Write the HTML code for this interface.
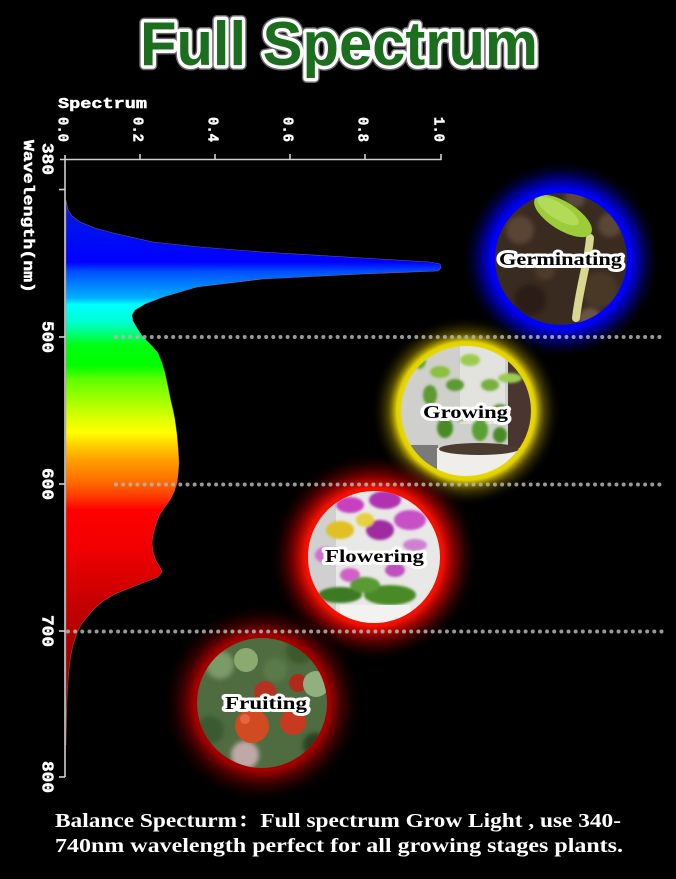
<!DOCTYPE html>
<html><head><meta charset="utf-8"><style>
html,body{margin:0;padding:0;background:#000;}
svg{display:block;}
</style></head><body>
<svg width="676" height="879" viewBox="0 0 676 879" xmlns="http://www.w3.org/2000/svg">
<defs>
<linearGradient id="spec" gradientUnits="userSpaceOnUse" x1="0" y1="200" x2="0" y2="740">
<stop offset="0" stop-color="#1020c0"/>
<stop offset="0.056" stop-color="#0010f0"/>
<stop offset="0.115" stop-color="#0000ff"/>
<stop offset="0.133" stop-color="#0050ff"/>
<stop offset="0.157" stop-color="#0080ff"/>
<stop offset="0.181" stop-color="#00b0ff"/>
<stop offset="0.194" stop-color="#00ffff"/>
<stop offset="0.226" stop-color="#00ffd0"/>
<stop offset="0.246" stop-color="#00ff80"/>
<stop offset="0.269" stop-color="#00ff10"/>
<stop offset="0.306" stop-color="#00ff00"/>
<stop offset="0.333" stop-color="#60ff00"/>
<stop offset="0.37" stop-color="#a0ff00"/>
<stop offset="0.407" stop-color="#e0ff00"/>
<stop offset="0.431" stop-color="#ffff00"/>
<stop offset="0.454" stop-color="#ffd000"/>
<stop offset="0.481" stop-color="#ffa000"/>
<stop offset="0.519" stop-color="#ff7000"/>
<stop offset="0.546" stop-color="#ff4000"/>
<stop offset="0.574" stop-color="#ff0000"/>
<stop offset="0.648" stop-color="#f00000"/>
<stop offset="0.741" stop-color="#c80000"/>
<stop offset="0.833" stop-color="#a80000"/>
<stop offset="1" stop-color="#800000"/>
</linearGradient>
<radialGradient id="gBlue" cx="561" cy="259" r="100" gradientUnits="userSpaceOnUse">
<stop offset="0.6" stop-color="#0000ff"/>
<stop offset="0.69" stop-color="#0000ff"/>
<stop offset="0.8" stop-color="#0000b0" stop-opacity="0.75"/>
<stop offset="0.9" stop-color="#000060" stop-opacity="0.35"/>
<stop offset="1" stop-color="#000000" stop-opacity="0"/>
</radialGradient>
<radialGradient id="gYel" cx="466" cy="411" r="95" gradientUnits="userSpaceOnUse">
<stop offset="0.65" stop-color="#f0e000"/>
<stop offset="0.73" stop-color="#e0d000"/>
<stop offset="0.82" stop-color="#807000" stop-opacity="0.6"/>
<stop offset="1" stop-color="#000000" stop-opacity="0"/>
</radialGradient>
<radialGradient id="gRed" cx="374" cy="557" r="105" gradientUnits="userSpaceOnUse">
<stop offset="0.6" stop-color="#ff1000"/>
<stop offset="0.66" stop-color="#f01000"/>
<stop offset="0.78" stop-color="#a00000" stop-opacity="0.7"/>
<stop offset="0.9" stop-color="#500000" stop-opacity="0.3"/>
<stop offset="1" stop-color="#000000" stop-opacity="0"/>
</radialGradient>
<radialGradient id="gDRed" cx="262" cy="703" r="100" gradientUnits="userSpaceOnUse">
<stop offset="0.6" stop-color="#b00000"/>
<stop offset="0.68" stop-color="#a00000"/>
<stop offset="0.8" stop-color="#600000" stop-opacity="0.65"/>
<stop offset="0.92" stop-color="#300000" stop-opacity="0.25"/>
<stop offset="1" stop-color="#000000" stop-opacity="0"/>
</radialGradient>
<clipPath id="c1"><circle cx="561" cy="259" r="66"/></clipPath>
<clipPath id="c2"><circle cx="466" cy="411" r="65"/></clipPath>
<clipPath id="c3"><circle cx="374" cy="557" r="66"/></clipPath>
<clipPath id="c4"><circle cx="262" cy="703" r="65"/></clipPath>
<filter id="bl" x="-20%" y="-20%" width="140%" height="140%"><feGaussianBlur stdDeviation="2.5"/></filter>
<filter id="bl2" x="-20%" y="-20%" width="140%" height="140%"><feGaussianBlur stdDeviation="1.2"/></filter>
</defs>

<rect width="676" height="879" fill="#000"/>

<!-- Title -->
<text x="140" y="65" font-family="Liberation Sans, sans-serif" font-weight="bold" font-size="62" textLength="398" lengthAdjust="spacingAndGlyphs" fill="#555" stroke="#666" stroke-width="10" stroke-linejoin="round">Full Spectrum</text>
<text x="140" y="65" font-family="Liberation Sans, sans-serif" font-weight="bold" font-size="62" textLength="398" lengthAdjust="spacingAndGlyphs" fill="#1b6e1d" stroke="#ffffff" stroke-width="7" stroke-linejoin="round" paint-order="stroke">Full Spectrum</text>

<!-- glows -->
<circle cx="561" cy="259" r="100" fill="url(#gBlue)"/>
<circle cx="466" cy="411" r="95" fill="url(#gYel)"/>
<circle cx="374" cy="557" r="105" fill="url(#gRed)"/>
<circle cx="262" cy="703" r="100" fill="url(#gDRed)"/>

<!-- Spectrum fill -->
<path fill="url(#spec)" stroke="#c08080" stroke-width="0.6" stroke-opacity="0.6" d="M66,200 L68,210 L72,216 L80,222 L95,228 L113,233 L153,242 L200,247 L263,252 L363,258 L430,262 L440,264 L441,268 L438,271 L363,274 L263,279 L197,287 L163,297 L145,304 L135,310 L132,315 L133,321 L137,328 L143,337 L152,346 L158,353 L162,363 L165,373 L168,387 L170,397 L173,410 L175,420 L177,435 L178,447 L179,463 L178,475 L177,483 L174,492 L170,500 L164,508 L159,516 L156,524 L153,535 L152,543 L153,552 L156,561 L160,567 L162,572 L158,577 L145,582 L130,588 L115,594 L103,601 L94,609 L87,617 L81,625 L77,633 L73,645 L70,660 L68,680 L67,700 L66.5,720 L66,745 L66,200 Z"/>

<!-- Dotted lines -->
<g stroke="#b4b4b4" stroke-width="4" stroke-linecap="round" stroke-dasharray="0 7.15" fill="none" opacity="0.85">
<line x1="116" y1="337" x2="664" y2="337"/>
<line x1="116" y1="484.5" x2="664" y2="484.5"/>
<line x1="68" y1="631.5" x2="664" y2="631.5"/>
</g>

<!-- Axes -->
<g stroke="#d0d0d0" stroke-width="1.6" fill="none">
<line x1="60" y1="159.5" x2="441.5" y2="159.5"/>
<line x1="65" y1="155" x2="65" y2="777"/>
<line x1="140" y1="154" x2="140" y2="160"/>
<line x1="215" y1="154" x2="215" y2="160"/>
<line x1="290" y1="154" x2="290" y2="160"/>
<line x1="365" y1="154" x2="365" y2="160"/>
<line x1="441" y1="154" x2="441" y2="160"/>
<line x1="59" y1="189.5" x2="65" y2="189.5"/>
<line x1="59" y1="337" x2="65" y2="337"/>
<line x1="59" y1="484" x2="65" y2="484"/>
<line x1="59" y1="631" x2="65" y2="631"/>
<line x1="59" y1="777" x2="65" y2="777"/>
</g>

<g font-family="Liberation Mono, monospace" font-weight="bold" fill="#ffffff" stroke="#ffffff" stroke-width="0.5">
<text x="58" y="108" font-size="15" textLength="89" lengthAdjust="spacingAndGlyphs">Spectrum</text>
<text transform="translate(58.5,117) rotate(90)" font-size="15" textLength="25" lengthAdjust="spacingAndGlyphs">0.0</text>
<text transform="translate(133.5,117) rotate(90)" font-size="15" textLength="25" lengthAdjust="spacingAndGlyphs">0.2</text>
<text transform="translate(208.5,117) rotate(90)" font-size="15" textLength="25" lengthAdjust="spacingAndGlyphs">0.4</text>
<text transform="translate(283.5,117) rotate(90)" font-size="15" textLength="25" lengthAdjust="spacingAndGlyphs">0.6</text>
<text transform="translate(358.5,117) rotate(90)" font-size="15" textLength="25" lengthAdjust="spacingAndGlyphs">0.8</text>
<text transform="translate(434.5,117) rotate(90)" font-size="15" textLength="25" lengthAdjust="spacingAndGlyphs">1.0</text>
<text transform="translate(42.5,143) rotate(90)" font-size="17" textLength="32" lengthAdjust="spacingAndGlyphs">380</text>
<text transform="translate(42.5,321) rotate(90)" font-size="17" textLength="32" lengthAdjust="spacingAndGlyphs">500</text>
<text transform="translate(42.5,468) rotate(90)" font-size="17" textLength="32" lengthAdjust="spacingAndGlyphs">600</text>
<text transform="translate(42.5,615) rotate(90)" font-size="17" textLength="32" lengthAdjust="spacingAndGlyphs">700</text>
<text transform="translate(42.5,761) rotate(90)" font-size="17" textLength="32" lengthAdjust="spacingAndGlyphs">800</text>
<text transform="translate(24,140) rotate(90)" font-size="15" textLength="153" lengthAdjust="spacingAndGlyphs">Wavelength(nm)</text>
</g>

<!-- Circle 1: Germinating -->
<g clip-path="url(#c1)">
<rect x="490" y="190" width="145" height="140" fill="#3a2b20"/>
<g filter="url(#bl)">
<circle cx="520" cy="230" r="14" fill="#5a4535"/>
<circle cx="600" cy="290" r="18" fill="#4a3828"/>
<circle cx="530" cy="300" r="16" fill="#2a1e16"/>
<circle cx="610" cy="225" r="12" fill="#5a4636"/>
<circle cx="545" cy="270" r="10" fill="#4d3a2c"/>
<circle cx="590" cy="320" r="12" fill="#6a5545"/>
<circle cx="575" cy="198" r="10" fill="#5a4838"/>
</g>
<path d="M590,238 C588,262 580,285 576,318" stroke="#d8d890" stroke-width="8" fill="none" stroke-linecap="round"/>
<ellipse cx="563" cy="216" rx="33" ry="14" transform="rotate(32 563 216)" fill="#9ccc3a"/>
<ellipse cx="558" cy="211" rx="24" ry="8" transform="rotate(32 558 211)" fill="#b8e060" opacity="0.8"/>
</g>

<!-- Circle 2: Growing -->
<g clip-path="url(#c2)">
<rect x="398" y="344" width="140" height="135" fill="#cfd0cb"/>
<rect x="460" y="344" width="45" height="80" fill="#e2e2de"/>
<rect x="508" y="344" width="32" height="135" fill="#4a3530"/>
<rect x="398" y="445" width="40" height="35" fill="#7a7a78"/>
<g filter="url(#bl2)" fill="#5d9a30">
<ellipse cx="440" cy="372" rx="10" ry="6" fill="#8cc040"/>
<ellipse cx="455" cy="385" rx="9" ry="6"/>
<ellipse cx="430" cy="395" rx="7" ry="10"/>
<ellipse cx="470" cy="360" rx="10" ry="6" fill="#9ccc50"/>
<ellipse cx="490" cy="385" rx="9" ry="6" fill="#78b040"/>
<ellipse cx="510" cy="378" rx="12" ry="5" fill="#9ccc50"/>
<ellipse cx="500" cy="410" rx="8" ry="6"/>
<ellipse cx="445" cy="428" rx="8" ry="10" fill="#4a8a28"/>
<ellipse cx="480" cy="430" rx="8" ry="11" fill="#58a030"/>
<ellipse cx="500" cy="435" rx="7" ry="8" fill="#4a8a28"/>
<ellipse cx="460" cy="415" rx="7" ry="6" fill="#6aa838"/>
<ellipse cx="420" cy="360" rx="6" ry="9" fill="#6aa838"/>
</g>
<rect x="437" y="448" width="84" height="36" fill="#eeeeea"/>
<ellipse cx="479" cy="449" rx="40" ry="6" fill="#4a3a30"/>
</g>

<!-- Circle 3: Flowering -->
<g clip-path="url(#c3)">
<rect x="306" y="490" width="140" height="135" fill="#e8e8e6"/>
<rect x="306" y="490" width="30" height="135" fill="#d0d0d0"/>
<g filter="url(#bl2)">
<ellipse cx="350" cy="505" rx="14" ry="8" fill="#c840c0"/>
<ellipse cx="385" cy="500" rx="16" ry="9" fill="#b030b0"/>
<ellipse cx="410" cy="520" rx="16" ry="10" fill="#c850c8"/>
<ellipse cx="380" cy="530" rx="14" ry="10" fill="#a02aa0"/>
<ellipse cx="340" cy="530" rx="14" ry="9" fill="#e0c020"/>
<ellipse cx="365" cy="520" rx="9" ry="7" fill="#e8d040"/>
<ellipse cx="325" cy="555" rx="10" ry="8" fill="#d070d0"/>
<ellipse cx="415" cy="545" rx="12" ry="6" fill="#d080d0"/>
<ellipse cx="395" cy="570" rx="10" ry="7" fill="#c050c0"/>
<ellipse cx="350" cy="575" rx="10" ry="7" fill="#d060c8"/>
<ellipse cx="340" cy="595" rx="22" ry="8" fill="#3a7a20"/>
<ellipse cx="390" cy="595" rx="26" ry="10" fill="#4a8a28"/>
<ellipse cx="365" cy="585" rx="15" ry="8" fill="#5a9a30"/>
</g>
<rect x="340" y="605" width="70" height="22" fill="#f2f2f0"/>
</g>

<!-- Circle 4: Fruiting -->
<g clip-path="url(#c4)">
<rect x="195" y="636" width="135" height="135" fill="#4e6c40"/>
<g filter="url(#bl)">
<circle cx="220" cy="665" r="14" fill="#7a9a68"/>
<circle cx="300" cy="650" r="14" fill="#3a5a2a"/>
<circle cx="210" cy="730" r="14" fill="#3a5a30"/>
<circle cx="245" cy="755" r="14" fill="#c0a8a8"/>
<circle cx="315" cy="745" r="12" fill="#2a4020"/>
<circle cx="275" cy="670" r="12" fill="#5a7a48"/>
</g>
<circle cx="252" cy="726" r="17" fill="#d04a22"/>
<circle cx="293" cy="722" r="13" fill="#c83a20"/>
<circle cx="265" cy="692" r="11" fill="#b83020"/>
<circle cx="298" cy="683" r="9" fill="#b02a1a"/>
<circle cx="246" cy="660" r="12" fill="#8aaa70"/>
<circle cx="316" cy="684" r="13" fill="#90b080"/>
<circle cx="245" cy="719" r="5" fill="#f07050" opacity="0.7"/>
</g>

<!-- labels -->
<g font-family="Liberation Serif, serif" font-weight="bold" font-size="18" fill="#000" stroke="#fff" stroke-width="6" stroke-linejoin="round" paint-order="stroke">
<text x="499" y="265" textLength="123" lengthAdjust="spacingAndGlyphs">Germinating</text>
<text x="423" y="418" textLength="85" lengthAdjust="spacingAndGlyphs">Growing</text>
<text x="325" y="562" textLength="99" lengthAdjust="spacingAndGlyphs">Flowering</text>
<text x="225" y="709" textLength="82" lengthAdjust="spacingAndGlyphs">Fruiting</text>
</g>

<!-- bottom text -->
<g font-family="Liberation Serif, 'Noto Serif CJK SC', serif" font-weight="bold" font-size="20" fill="#ffffff">
<text x="55" y="827" textLength="566" lengthAdjust="spacingAndGlyphs">Balance Specturm：Full spectrum Grow Light , use 340-</text>
<text x="55" y="852" textLength="568" lengthAdjust="spacingAndGlyphs">740nm wavelength perfect for all growing stages plants.</text>
</g>
</svg>
</body></html>
